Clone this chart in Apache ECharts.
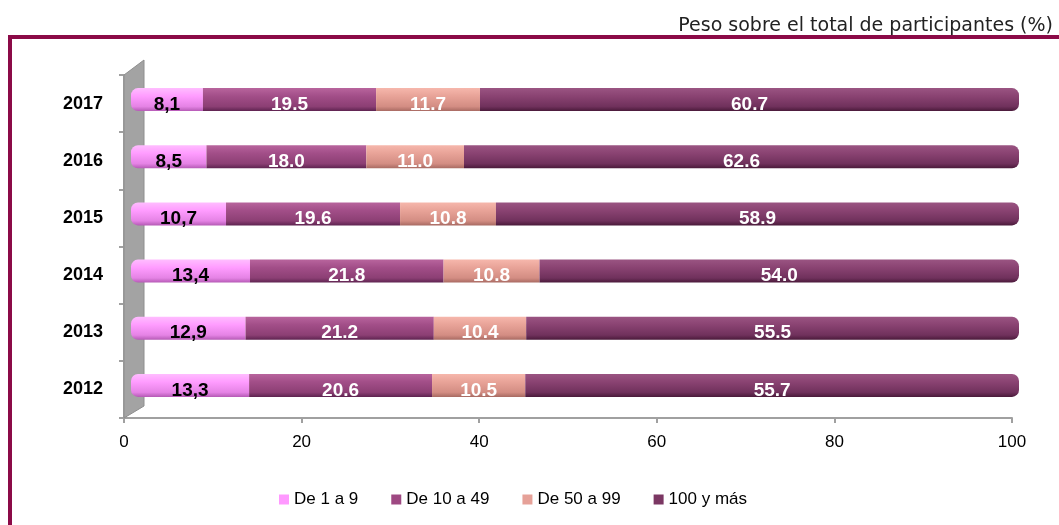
<!DOCTYPE html>
<html>
<head>
<meta charset="utf-8">
<script src="https://cdn.jsdelivr.net/npm/echarts@6/dist/echarts.min.js"></script>
<style>html,body{margin:0;padding:0;background:#fff;}#c{width:1059px;height:525px;}</style>
</head>
<body>
<div id="c"></div>
<script>
const years = ['2012', '2013', '2014', '2015', '2016', '2017'];
const seriesNames = ['De 1 a 9', 'De 10 a 49', 'De 50 a 99', '100 y más'];
const s1to9 = [13.3, 12.9, 13.4, 10.7, 8.5, 8.1];
const s10to49 = [20.6, 21.2, 21.8, 19.6, 18.0, 19.5];
const s50to99 = [10.5, 10.4, 10.8, 10.8, 11.0, 11.7];
const s100plus = [55.7, 55.5, 54.0, 58.9, 62.6, 60.7];
const xTicks = [0, 20, 40, 60, 80, 100];

const sans = '"Liberation Sans", Arial, sans-serif';
const legendColors = ['#FF99FF', '#9E4882', '#E6A198', '#7B3763'];
function grad(c0, c1, c2, c3) {
  return new echarts.graphic.LinearGradient(0, 0, 0, 1, [
    {offset: 0, color: c0}, {offset: 0.35, color: c1}, {offset: 0.8, color: c2}, {offset: 1, color: c3}
  ]);
}
const fills = [
  grad('#FFBDFF', '#FF9CFF', '#E583E5', '#B55AB5'),
  grad('#B8649D', '#A24E88', '#8C3F74', '#5E2350'),
  grad('#F6B7AC', '#E8A398', '#D38D83', '#A86A62'),
  grad('#9A5482', '#8A4372', '#70315C', '#4A1A3A')
];
const dataSets = [s1to9, s10to49, s50to99, s100plus];

const chart = echarts.init(document.getElementById('c'), null, {renderer: 'canvas'});

const seriesList = dataSets.map((d, i) => ({
  name: seriesNames[i],
  type: 'bar',
  stack: 'total',
  xAxisIndex: 1,
  yAxisIndex: 1,
  barWidth: 23,
  data: d,
  itemStyle: {
    color: fills[i],
    borderRadius: i === 0 ? [7, 0, 0, 7] : (i === 3 ? [0, 7, 7, 0] : 0)
  },
  label: {
    show: true,
    position: 'inside',
    offset: [0, 5],
    color: i === 0 ? '#000' : '#fff',
    fontFamily: sans,
    fontWeight: 'bold',
    fontSize: 19,
    formatter: p => i === 0 ? p.value.toFixed(1).replace('.', ',') : p.value.toFixed(1)
  },
  emphasis: {disabled: true}
}));

const option = {
  animation: false,
  backgroundColor: '#fff',
  title: {
    text: 'Peso sobre el total de participantes (%)',
    right: 1,
    top: 12,
    textStyle: {fontFamily: '"DejaVu Sans", sans-serif', fontWeight: 'normal', fontSize: 19, color: '#222'}
  },
  legend: {
    bottom: 12,
    left: 274,
    itemWidth: 10,
    itemHeight: 10,
    itemGap: 33,
    icon: 'rect',
    textStyle: {fontFamily: sans, fontSize: 17, color: '#000'},
    data: seriesNames.map((n, i) => ({name: n, itemStyle: {color: legendColors[i]}}))
  },
  grid: [
    {left: 124, right: 47, top: 75, bottom: 107},
    {left: 131, right: 40, top: 71, bottom: 111}
  ],
  xAxis: [
    {
      type: 'value', gridIndex: 0, min: xTicks[0], max: xTicks[xTicks.length - 1], interval: 20,
      splitLine: {show: false},
      axisLine: {show: true, lineStyle: {color: '#A0A0A0', width: 2}},
      axisTick: {show: true, length: 5, lineStyle: {color: '#A0A0A0', width: 2}},
      axisLabel: {fontFamily: sans, fontSize: 17, color: '#000', margin: 16}
    },
    {
      type: 'value', gridIndex: 1, min: 0, max: 100, show: false, splitLine: {show: false}
    }
  ],
  yAxis: [
    {
      type: 'category', gridIndex: 0, data: years,
      axisLine: {show: true, lineStyle: {color: '#A0A0A0', width: 2}},
      axisTick: {show: true, length: 5, lineStyle: {color: '#A0A0A0', width: 2}},
      axisLabel: {fontFamily: sans, fontSize: 18, fontWeight: 'bold', color: '#000', margin: 21, padding: [6, 0, 0, 0]}
    },
    {
      type: 'category', gridIndex: 1, data: years, show: false
    }
  ],
  series: seriesList
};
chart.setOption(option);

// decorative 3D wall + frame
const gridRect = chart.getModel().getComponent('grid', 0).coordinateSystem.getRect();
const ax = gridRect.x, ay0 = gridRect.y, ay1 = gridRect.y + gridRect.height;
chart.setOption({
  graphic: [
    {type: 'polygon', z: 1, shape: {points: [[ax, ay0], [ax + 20, ay0 - 15], [ax + 20, ay1 - 12], [ax, ay1]]},
      style: {fill: '#A3A3A3', stroke: '#8E8E8E', lineWidth: 1}},
    {type: 'rect', shape: {x: 8, y: 35, width: 1051, height: 4}, style: {fill: '#8B0A47'}},
    {type: 'rect', shape: {x: 8, y: 35, width: 4, height: 490}, style: {fill: '#8B0A47'}}
  ]
});
</script>
</body>
</html>
